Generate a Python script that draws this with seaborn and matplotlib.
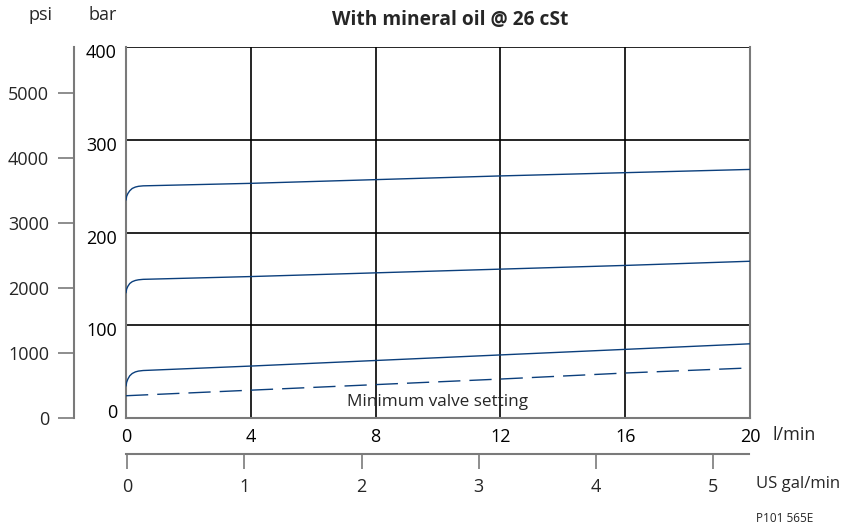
import numpy as np
import pandas as pd
import matplotlib
matplotlib.use('Agg')
import matplotlib.pyplot as plt
import matplotlib.transforms as mtransforms
import seaborn as sns

# 데이터
flow_lpm = [0, 0.02, 0.06, 0.12, 0.2, 0.3, 0.4, 0.55, 4, 8, 12, 16, 20]
p_high = [235, 239, 242, 245, 247.5, 249, 249.8, 250.3, 253, 257, 261, 264.5, 268]
p_mid = [135, 139, 142, 145, 147, 148.3, 149, 149.5, 152.5, 156.5, 160.5, 164.5, 169]
p_low = [34.5, 38.5, 42, 45.5, 48, 49.7, 50.6, 51.2, 56, 62, 68, 74, 80]
flow_min = [0, 4, 8, 12, 16, 20]
p_min = [24, 30, 36, 42, 48.5, 54]

bar_ticks = [0, 100, 200, 300, 400]
psi_ticks = [0, 1000, 2000, 3000, 4000, 5000]
lpm_ticks = [0, 4, 8, 12, 16, 20]
gal_ticks = [0, 1, 2, 3, 4, 5]

sns.set_theme(style='white')
plt.rcParams['font.family'] = ['Open Sans', 'DejaVu Sans']

blue = '#0b3f7c'
grey = '#7a7a7a'
fs = 13

df = pd.concat([
    pd.DataFrame({'flow': flow_lpm, 'pressure': p_high, 'curve': 'high'}),
    pd.DataFrame({'flow': flow_lpm, 'pressure': p_mid, 'curve': 'mid'}),
    pd.DataFrame({'flow': flow_lpm, 'pressure': p_low, 'curve': 'low'}),
])
df_min = pd.DataFrame({'flow': flow_min, 'pressure': p_min})

fig = plt.figure(figsize=(8.44, 5.28), dpi=100)
ax = fig.add_axes([126 / 844, 1 - 418 / 528, 624 / 844, 371 / 528])

# 그리드
for v in bar_ticks[1:]:
    ax.axhline(v, color='black', lw=1.2, zorder=1)
for v in lpm_ticks[1:-1]:
    ax.axvline(v, color='black', lw=1.2, zorder=1)

for name in ['high', 'mid', 'low']:
    sub = df[df['curve'] == name]
    sns.lineplot(data=sub, x='flow', y='pressure', color=blue, lw=1.0,
                 sort=False, estimator=None, ax=ax, zorder=3)
sns.lineplot(data=df_min, x='flow', y='pressure', color=blue, lw=1.0,
             sort=False, estimator=None, ax=ax, zorder=3, dashes=False)
ax.lines[-1].set_dashes((16, 6.5))

ax.set_xlim(0, 20)
ax.set_ylim(0, 400)
ax.set_xlabel('')
ax.set_ylabel('')
ax.set_xticks(lpm_ticks)
ax.set_yticks(bar_ticks)
ax.set_yticklabels([str(v) for v in bar_ticks])
ax.tick_params(axis='both', length=0, labelsize=fs, colors='black')
ax.tick_params(axis='y', pad=6.5)
ax.tick_params(axis='x', pad=7)
for s in ['left', 'bottom', 'right']:
    ax.spines[s].set_color(grey)
    ax.spines[s].set_linewidth(1.5)
ax.spines['top'].set_visible(False)
for lab in ax.get_yticklabels():
    dy = 5 / 72 if lab.get_text() == '0' else -3 / 72
    lab.set_transform(lab.get_transform() + mtransforms.ScaledTranslation(0, dy, fig.dpi_scale_trans))

ax.text(10, 17, 'Minimum valve setting', ha='center', va='center', fontsize=12.3)

# psi 축
axp = fig.add_axes([74 / 844, 1 - 418 / 528, 0.0001, 371 / 528])
axp.set_ylim(0, 371 / 65 * 1000)
axp.set_yticks(psi_ticks)
axp.set_yticklabels([str(v) for v in psi_ticks])
axp.set_xticks([])
for s in ['top', 'bottom', 'right']:
    axp.spines[s].set_visible(False)
axp.spines['left'].set_color(grey)
axp.spines['left'].set_linewidth(1.5)
axp.tick_params(axis='y', direction='out', length=11.5, width=1.2, color=grey,
                pad=6.5, labelsize=fs, left=True)
axp.patch.set_visible(False)

# US gal/min 축
axg = fig.add_axes([126 / 844, 1 - 454 / 528, 623 / 844, 0.0001])
axg.set_xlim(-0.012, 5.31)
axg.set_xticks(gal_ticks)
axg.set_xticklabels([str(v) for v in gal_ticks])
axg.set_yticks([])
for s in ['top', 'left', 'right']:
    axg.spines[s].set_visible(False)
axg.spines['bottom'].set_color(grey)
axg.spines['bottom'].set_linewidth(1.5)
axg.tick_params(axis='x', direction='out', length=11, width=1.2, color=grey,
                pad=6, labelsize=fs, bottom=True)
axg.patch.set_visible(False)

fig.text(450 / 844, 1 - 20 / 528, 'With mineral oil @ 26 cSt', ha='center', va='center',
         fontsize=13.8, fontweight='bold')
fig.text(40 / 844, 1 - 15 / 528, 'psi', ha='center', va='center', fontsize=fs)
fig.text(103 / 844, 1 - 15 / 528, 'bar', ha='center', va='center', fontsize=fs)
fig.text(772 / 844, 1 - 435 / 528, 'l/min', ha='left', va='center', fontsize=fs)
fig.text(840 / 844, 1 - 484 / 528, 'US gal/min', ha='right', va='center', fontsize=12)
fig.text(785 / 844, 1 - 519 / 528, 'P101 565E', ha='center', va='center', fontsize=8.5)

fig.savefig('out.png', dpi=100)
